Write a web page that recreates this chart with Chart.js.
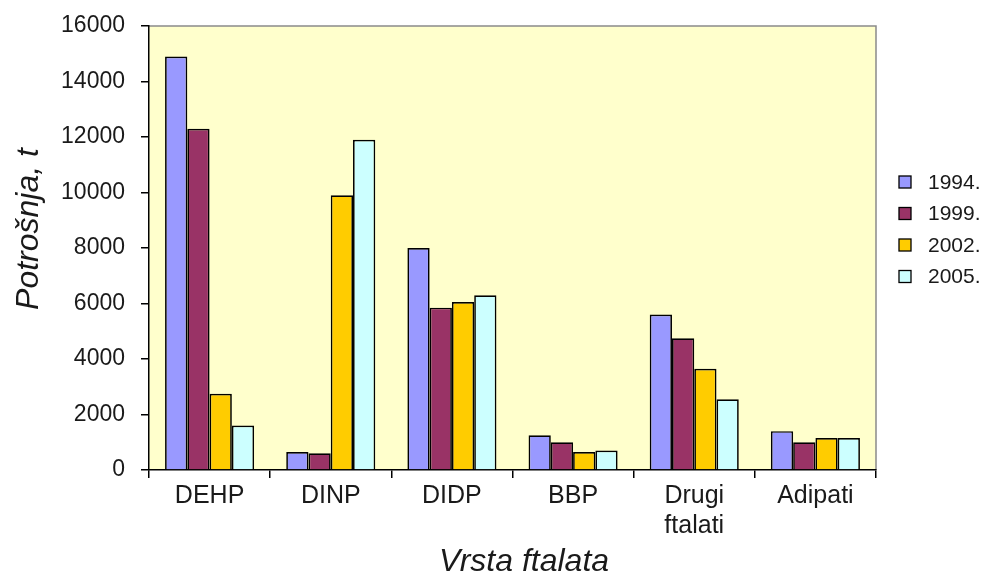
<!DOCTYPE html>
<html>
<head>
<meta charset="utf-8">
<script src="https://cdn.jsdelivr.net/npm/chart.js@4/dist/chart.umd.min.js"></script>
<style>
  html, body { margin: 0; padding: 0; background: #fff; }
  #wrap { width: 995px; height: 579px; }
</style>
</head>
<body>
<div id="wrap"><canvas id="chart" width="995" height="579"></canvas></div>
<script>
const categories = ['DEHP', 'DINP', 'DIDP', 'BBP', ['Drugi', 'ftalati'], 'Adipati'];
const years = ['1994.', '1999.', '2002.', '2005.'];
const values1994 = [14900, 650, 8000, 1250, 5600, 1400];
const values1999 = [12300, 600, 5850, 1000, 4750, 1000];
const values2002 = [2750, 9900, 6050, 650, 3650, 1150];
const values2005 = [1600, 11900, 6300, 700, 2550, 1150];
const colors = ['#9999FF', '#993366', '#FFCC00', '#CCFFFF'];
const yTitle = 'Potrošnja, t';
const xTitle = 'Vrsta ftalata';

const FONT = "'Liberation Sans', Arial, sans-serif";

// plot background + grey frame on top/right
const plotBackground = {
  id: 'plotBackground',
  beforeDraw(chart) {
    const { ctx, chartArea: a } = chart;
    ctx.save();
    ctx.fillStyle = '#FFFFCC';
    ctx.fillRect(a.left, a.top, a.right - a.left, a.bottom - a.top);
    ctx.strokeStyle = '#8a8a8a';
    ctx.lineWidth = 1.5;
    ctx.beginPath();
    ctx.moveTo(a.left, a.top);
    ctx.lineTo(a.right, a.top);
    ctx.lineTo(a.right, a.bottom);
    ctx.stroke();
    ctx.restore();
  }
};

// axis titles and legend drawn by hand to match the placement
const extras = {
  id: 'extras',
  afterDraw(chart) {
    const ctx = chart.ctx;
    ctx.save();
    ctx.fillStyle = '#1a1a1a';
    ctx.font = 'italic 32px ' + FONT;
    ctx.textAlign = 'center';
    ctx.textBaseline = 'middle';
    ctx.fillText(xTitle, 524, 562);
    ctx.translate(29, 229);
    ctx.rotate(-Math.PI / 2);
    ctx.fillText(yTitle, 0, 0);
    ctx.restore();

    ctx.save();
    ctx.font = '21px ' + FONT;
    ctx.textBaseline = 'middle';
    chart.data.datasets.forEach((ds, i) => {
      const y = 182 + i * 31.5;
      ctx.fillStyle = ds.backgroundColor;
      ctx.fillRect(899, y - 6, 12, 12);
      ctx.strokeStyle = '#000';
      ctx.lineWidth = 1.3;
      ctx.strokeRect(899, y - 6, 12, 12);
      ctx.fillStyle = '#1a1a1a';
      ctx.fillText(ds.label, 928, y + 1);
    });
    ctx.restore();
  }
};

const seriesValues = [values1994, values1999, values2002, values2005];

new Chart(document.getElementById('chart'), {
  type: 'bar',
  data: {
    labels: categories,
    datasets: years.map((year, i) => ({
      label: year,
      data: seriesValues[i],
      backgroundColor: colors[i],
      borderColor: '#000',
      borderWidth: 1.7,
      categoryPercentage: 0.735,
      barPercentage: 1
    }))
  },
  options: {
    responsive: false,
    animation: false,
    layout: { padding: { left: 0, top: 26, right: 119, bottom: 0 } },
    plugins: {
      legend: { display: false },
      tooltip: { enabled: false }
    },
    scales: {
      x: {
        afterFit(scale) { scale.height = 109; },
        border: { display: true, color: '#000', width: 1.5 },
        grid: {
          drawOnChartArea: false,
          drawTicks: true,
          tickLength: 8,
          color: '#000',
          lineWidth: 1.5
        },
        ticks: {
          color: '#1a1a1a',
          padding: 3,
          maxRotation: 0,
          font: { family: FONT, size: 25, lineHeight: 1.2 }
        }
      },
      y: {
        min: 0,
        max: 16000,
        afterFit(scale) {
          scale.width = 149;
          scale.paddingTop = 0;
          scale.paddingBottom = 0;
        },
        border: { display: true, color: '#000', width: 1.5 },
        grid: {
          drawOnChartArea: false,
          drawTicks: true,
          tickLength: 8,
          color: '#000',
          lineWidth: 1.5
        },
        ticks: {
          stepSize: 2000,
          color: '#1a1a1a',
          padding: 16,
          font: { family: FONT, size: 23 },
          callback: v => String(v)
        }
      }
    }
  },
  plugins: [plotBackground, extras]
});
</script>
</body>
</html>
